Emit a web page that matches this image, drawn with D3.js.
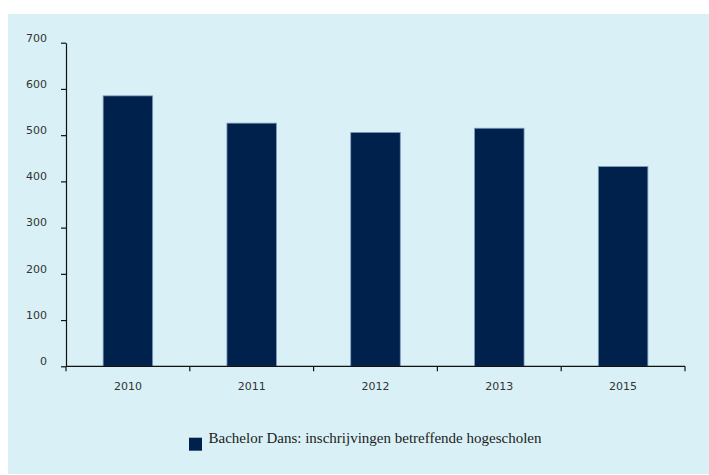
<!DOCTYPE html>
<html><head><meta charset="utf-8">
<script src="https://cdn.jsdelivr.net/npm/d3@7/dist/d3.min.js"></script>
<style>body{margin:0;background:#fff;}svg{display:block;}</style>
</head><body>
<script>
const categories = ["2010","2011","2012","2013","2015"];
const values = [585, 526, 506, 515, 432];
const yTicks = [0,100,200,300,400,500,600,700];
const seriesName = "Bachelor Dans: inschrijvingen betreffende hogescholen";

(function(){
const W = 709, H = 475;
const svg = d3.select("body").append("svg").attr("width", W).attr("height", H);
svg.append("rect").attr("x", 8).attr("y", 14).attr("width", W - 8).attr("height", 460).attr("fill", "#d9f1f6");

const pl = 66, pr = 685, pt = 42.7, pb = 366.3;
const x = d3.scaleBand().domain(categories).range([pl, pr]).paddingInner(0.6).paddingOuter(0.3);
const xTickScale = d3.scaleBand().domain(categories).range([pl, pr]);
const y = d3.scaleLinear().domain([0, 700]).range([pb, pt]);

svg.selectAll("rect.bar").data(values).join("rect").attr("class","bar")
  .attr("x", (d,i) => x(categories[i])).attr("width", x.bandwidth())
  .attr("y", d => y(d)).attr("height", d => y(0) - y(d))
  .attr("fill", "#00214c").attr("stroke", "#7d9cc0").attr("stroke-width", 0.8);

// y axis
const ya = svg.append("g").attr("transform", `translate(${pl},0)`)
  .call(d3.axisLeft(y).tickValues(yTicks).tickSize(5).tickSizeOuter(0));
ya.select(".domain").attr("stroke", "#111").attr("stroke-width", 1.2);
ya.selectAll(".tick line").attr("stroke", "#111").attr("stroke-width", 1.2);
ya.selectAll(".tick text").attr("font-family", "DejaVu Sans, Verdana, sans-serif").attr("font-size", 11)
  .attr("fill", "#333").attr("x", -19).attr("dy", "-0.15em");

// x axis
const xa = svg.append("g").attr("transform", `translate(0,${pb})`);
xa.append("line").attr("x1", pl).attr("x2", pr).attr("stroke", "#111").attr("stroke-width", 1.2);
const edges = categories.map(c => xTickScale(c)).concat([pr]);
xa.selectAll("line.t").data(edges).join("line").attr("class","t")
  .attr("x1", d => d).attr("x2", d => d).attr("y1", 0).attr("y2", 5)
  .attr("stroke", "#111").attr("stroke-width", 1.2);
xa.selectAll("text").data(categories).join("text")
  .attr("x", d => xTickScale(d) + xTickScale.bandwidth()/2).attr("y", 24)
  .attr("text-anchor", "middle").attr("font-family", "DejaVu Sans, Verdana, sans-serif").attr("font-size", 11)
  .attr("fill", "#333").text(d => d);

// legend
svg.append("rect").attr("x", 189).attr("y", 437.7).attr("width", 13).attr("height", 13).attr("fill", "#00214c");
svg.append("text").attr("x", 208.5).attr("y", 443).attr("font-family", "Liberation Serif, serif").attr("font-size", 14)
  .attr("fill", "#222").attr("textLength", 333).attr("lengthAdjust", "spacingAndGlyphs").text(seriesName);
})();
</script>
</body></html>
